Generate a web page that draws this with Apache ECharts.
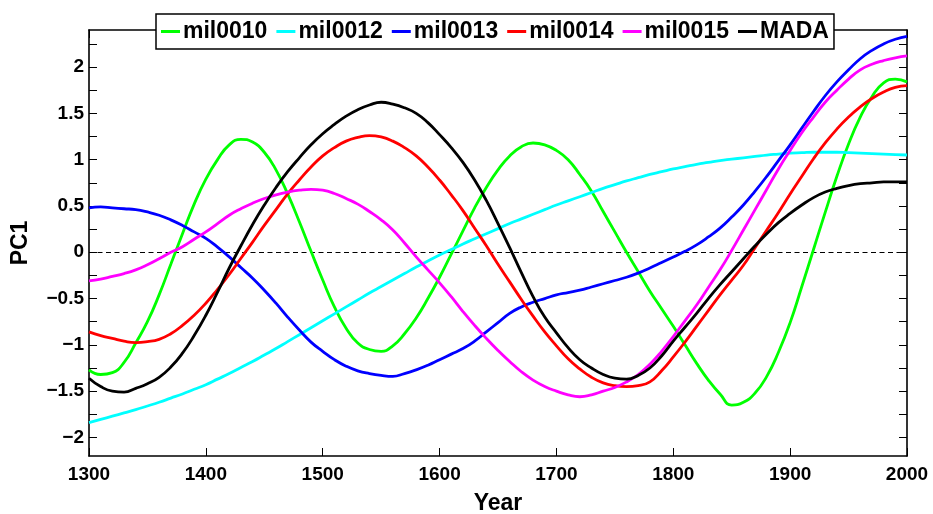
<!DOCTYPE html>
<html>
<head>
<meta charset="utf-8">
<script src="https://cdn.jsdelivr.net/npm/echarts@6/dist/echarts.min.js"></script>
<style>
html,body{margin:0;padding:0;background:#fff;}
#chart{width:933px;height:514px;}
</style>
</head>
<body>
<div id="chart"></div>
<script>
// Years (every 10 years) and values
const years = [1300,1310,1320,1330,1340,1350,1360,1370,1380,1390,
               1400,1410,1420,1430,1440,1450,1460,1470,1480,1490,
               1500,1510,1520,1530,1540,1550,1560,1570,1580,1590,
               1600,1610,1620,1630,1640,1650,1660,1670,1680,1690,
               1700,1710,1720,1730,1740,1750,1760,1770,1780,1790,
               1800,1810,1820,1830,1840,1850,1860,1870,1880,1890,
               1900,1910,1920,1930,1940,1950,1960,1970,1980,1990,2000];
const mil0010 = [-1.27,-1.32,-1.30,-1.19,-0.98,-0.75,-0.46,-0.13,0.20,0.52,
                 0.79,1.00,1.16,1.22,1.19,1.08,0.89,0.63,0.33,0.01,
                 -0.30,-0.59,-0.82,-0.98,-1.05,-1.07,-1.01,-0.88,-0.71,-0.50,
                 -0.27,-0.02,0.23,0.48,0.70,0.89,1.04,1.14,1.18,1.16,
                 1.10,1.00,0.84,0.66,0.44,0.22,0.00,-0.21,-0.42,-0.61,
                 -0.80,-1.00,-1.20,-1.38,-1.53,-1.65,-1.62,-1.52,-1.34,-1.08,
                 -0.76,-0.37,0.03,0.43,0.82,1.17,1.46,1.68,1.83,1.87,1.84];
const mil0012 = [-1.84,-1.805,-1.77,-1.735,-1.70,-1.66,-1.62,-1.575,-1.53,-1.48,
                 -1.43,-1.37,-1.31,-1.245,-1.18,-1.11,-1.04,-0.965,-0.89,-0.815,
                 -0.74,-0.665,-0.59,-0.515,-0.44,-0.37,-0.30,-0.23,-0.16,-0.095,
                 -0.03,0.03,0.09,0.145,0.20,0.255,0.31,0.36,0.41,0.46,
                 0.51,0.555,0.60,0.645,0.69,0.73,0.77,0.805,0.84,0.87,
                 0.90,0.925,0.95,0.97,0.99,1.005,1.02,1.035,1.05,1.06,
                 1.07,1.075,1.08,1.08,1.08,1.075,1.07,1.065,1.06,1.055,1.05];
const mil0013 = [0.48,0.49,0.48,0.47,0.46,0.435,0.40,0.35,0.29,0.22,
                 0.15,0.055,-0.05,-0.165,-0.28,-0.41,-0.55,-0.70,-0.84,-0.97,
                 -1.07,-1.16,-1.23,-1.28,-1.31,-1.33,-1.34,-1.31,-1.27,-1.22,
                 -1.16,-1.10,-1.04,-0.96,-0.86,-0.76,-0.66,-0.59,-0.54,-0.50,
                 -0.46,-0.435,-0.41,-0.375,-0.34,-0.305,-0.27,-0.225,-0.17,-0.11,
                 -0.05,0.01,0.08,0.165,0.26,0.38,0.51,0.66,0.82,0.99,
                 1.16,1.34,1.52,1.69,1.84,1.97,2.09,2.18,2.25,2.30,2.33];
const mil0014 = [-0.86,-0.90,-0.93,-0.96,-0.975,-0.965,-0.94,-0.88,-0.79,-0.68,
                 -0.55,-0.40,-0.24,-0.065,0.11,0.29,0.46,0.63,0.78,0.92,
                 1.04,1.13,1.20,1.24,1.26,1.245,1.20,1.13,1.04,0.92,
                 0.78,0.62,0.45,0.26,0.07,-0.13,-0.32,-0.51,-0.69,-0.86,
                 -1.01,-1.15,-1.26,-1.35,-1.41,-1.44,-1.45,-1.44,-1.40,-1.28,
                 -1.13,-0.97,-0.80,-0.63,-0.46,-0.30,-0.14,0.05,0.24,0.43,
                 0.63,0.82,1.01,1.18,1.33,1.46,1.57,1.66,1.73,1.78,1.80];
const mil0015 = [-0.31,-0.29,-0.26,-0.23,-0.19,-0.135,-0.07,0.00,0.06,0.14,
                 0.22,0.31,0.40,0.47,0.53,0.58,0.62,0.65,0.67,0.68,
                 0.67,0.635,0.58,0.52,0.44,0.35,0.24,0.10,-0.05,-0.19,
                 -0.33,-0.48,-0.64,-0.79,-0.93,-1.06,-1.18,-1.29,-1.38,-1.45,
                 -1.50,-1.54,-1.56,-1.54,-1.50,-1.46,-1.40,-1.32,-1.21,-1.07,
                 -0.91,-0.74,-0.57,-0.38,-0.19,0.02,0.24,0.46,0.68,0.90,
                 1.10,1.29,1.46,1.62,1.75,1.87,1.97,2.03,2.07,2.10,2.12];
const MADA = [-1.36,-1.45,-1.50,-1.51,-1.47,-1.42,-1.35,-1.24,-1.09,-0.90,
              -0.68,-0.43,-0.17,0.07,0.30,0.51,0.70,0.87,1.02,1.16,
              1.28,1.38,1.47,1.54,1.59,1.62,1.60,1.56,1.50,1.40,
              1.27,1.13,0.97,0.78,0.56,0.31,0.05,-0.22,-0.48,-0.70,
              -0.87,-1.03,-1.16,-1.25,-1.32,-1.36,-1.37,-1.33,-1.25,-1.12,
              -0.96,-0.81,-0.66,-0.50,-0.35,-0.21,-0.07,0.07,0.20,0.32,
              0.42,0.51,0.59,0.65,0.69,0.72,0.74,0.75,0.76,0.76,0.76];

const seriesNames = ['mil0010','mil0012','mil0013','mil0014','mil0015','MADA'];
const seriesValues = [mil0010, mil0012, mil0013, mil0014, mil0015, MADA];
const seriesColors = ['#00ff00','#00ffff','#0000ff','#ff0000','#ff00ff','#000000'];

const xTickLabels = [1300,1400,1500,1600,1700,1800,1900,2000];
const yLabelValues = [-2,-1.5,-1,-0.5,0,0.5,1,1.5,2];
const yTickValues = [-2,-1.75,-1.5,-1.25,-1,-0.75,-0.5,-0.25,0,0.25,0.5,0.75,1,1.25,1.5,1.75,2,2.25];
const zeroLine = 0;

const FONT = "'Liberation Sans', Arial, Helvetica, sans-serif";
const fmtY = v => (v < 0 ? '\u2212' + Math.abs(v) : String(v));

const chart = echarts.init(document.getElementById('chart'), null, {renderer: 'canvas'});

const series = seriesNames.map((name, i) => {
  const s = {
    name: name,
    type: 'line',
    data: years.map((y, j) => [y, seriesValues[i][j]]),
    smooth: 0.5,
    symbol: 'none',
    showSymbol: false,
    lineStyle: {color: seriesColors[i], width: 2.8},
    itemStyle: {color: seriesColors[i]},
    z: 3 + i,
    animation: false
  };
  if (i === 0) {
    s.markLine = {
      silent: true,
      symbol: 'none',
      z: 2,
      label: {show: false},
      lineStyle: {color: '#000', width: 1.2, type: [5, 3.5]},
      data: [{yAxis: zeroLine}],
      animation: false
    };
  }
  return s;
});

const axisLine = {show: true, onZero: false, lineStyle: {color: '#000', width: 1.6}};
const xCommon = {
  type: 'value', min: xTickLabels[0], max: xTickLabels[xTickLabels.length - 1], interval: 100,
  splitLine: {show: false}
};
const yCommon = {
  type: 'value', min: -2.2, max: 2.4,
  splitLine: {show: false}
};

chart.setOption({
  animation: false,
  backgroundColor: '#fff',
  textStyle: {fontFamily: FONT},
  grid: {left: 89, right: 26, top: 30, bottom: 58, containLabel: false, outerBoundsMode: 'none'},
  legend: {
    data: seriesNames,
    icon: 'rect',
    left: 156, top: 14,
    orient: 'horizontal',
    itemWidth: 19, itemHeight: 3, itemGap: 9,
    padding: [5, 5, 5, 5],
    backgroundColor: '#fff',
    borderColor: '#000', borderWidth: 1.5, borderRadius: 0,
    textStyle: {fontFamily: FONT, fontWeight: 'bold', fontSize: 23, color: '#000', lineHeight: 25, padding: [0, 0, 0, -2]},
    selectedMode: false
  },
  xAxis: [
    Object.assign({}, xCommon, {
      position: 'bottom',
      name: 'Year', nameLocation: 'middle', nameGap: 36,
      nameTextStyle: {fontFamily: FONT, fontWeight: 'bold', fontSize: 23, color: '#000'},
      axisLine: axisLine,
      axisTick: {show: true, inside: true, length: 8, lineStyle: {color: '#000', width: 1}},
      axisLabel: {show: true, margin: 9, formatter: v => String(v), fontFamily: FONT, fontWeight: 'bold', fontSize: 19, color: '#000'}
    }),
    Object.assign({}, xCommon, {
      position: 'top',
      axisLine: axisLine,
      axisTick: {show: true, inside: true, length: 8, lineStyle: {color: '#000', width: 1}},
      axisLabel: {show: false}
    })
  ],
  yAxis: [
    Object.assign({}, yCommon, {
      position: 'left',
      name: 'PC1', nameLocation: 'middle', nameGap: 57,
      nameTextStyle: {fontFamily: FONT, fontWeight: 'bold', fontSize: 23, color: '#000'},
      axisLine: axisLine,
      axisTick: {show: true, inside: true, length: 8, customValues: yTickValues, lineStyle: {color: '#000', width: 1}},
      axisLabel: {show: true, margin: 5, customValues: yLabelValues, formatter: fmtY, fontFamily: FONT, fontWeight: 'bold', fontSize: 19, color: '#000'}
    }),
    Object.assign({}, yCommon, {
      position: 'right',
      axisLine: axisLine,
      axisTick: {show: true, inside: true, length: 8, customValues: yTickValues, lineStyle: {color: '#000', width: 1}},
      axisLabel: {show: false}
    })
  ],
  series: series
});
</script>
</body>
</html>
